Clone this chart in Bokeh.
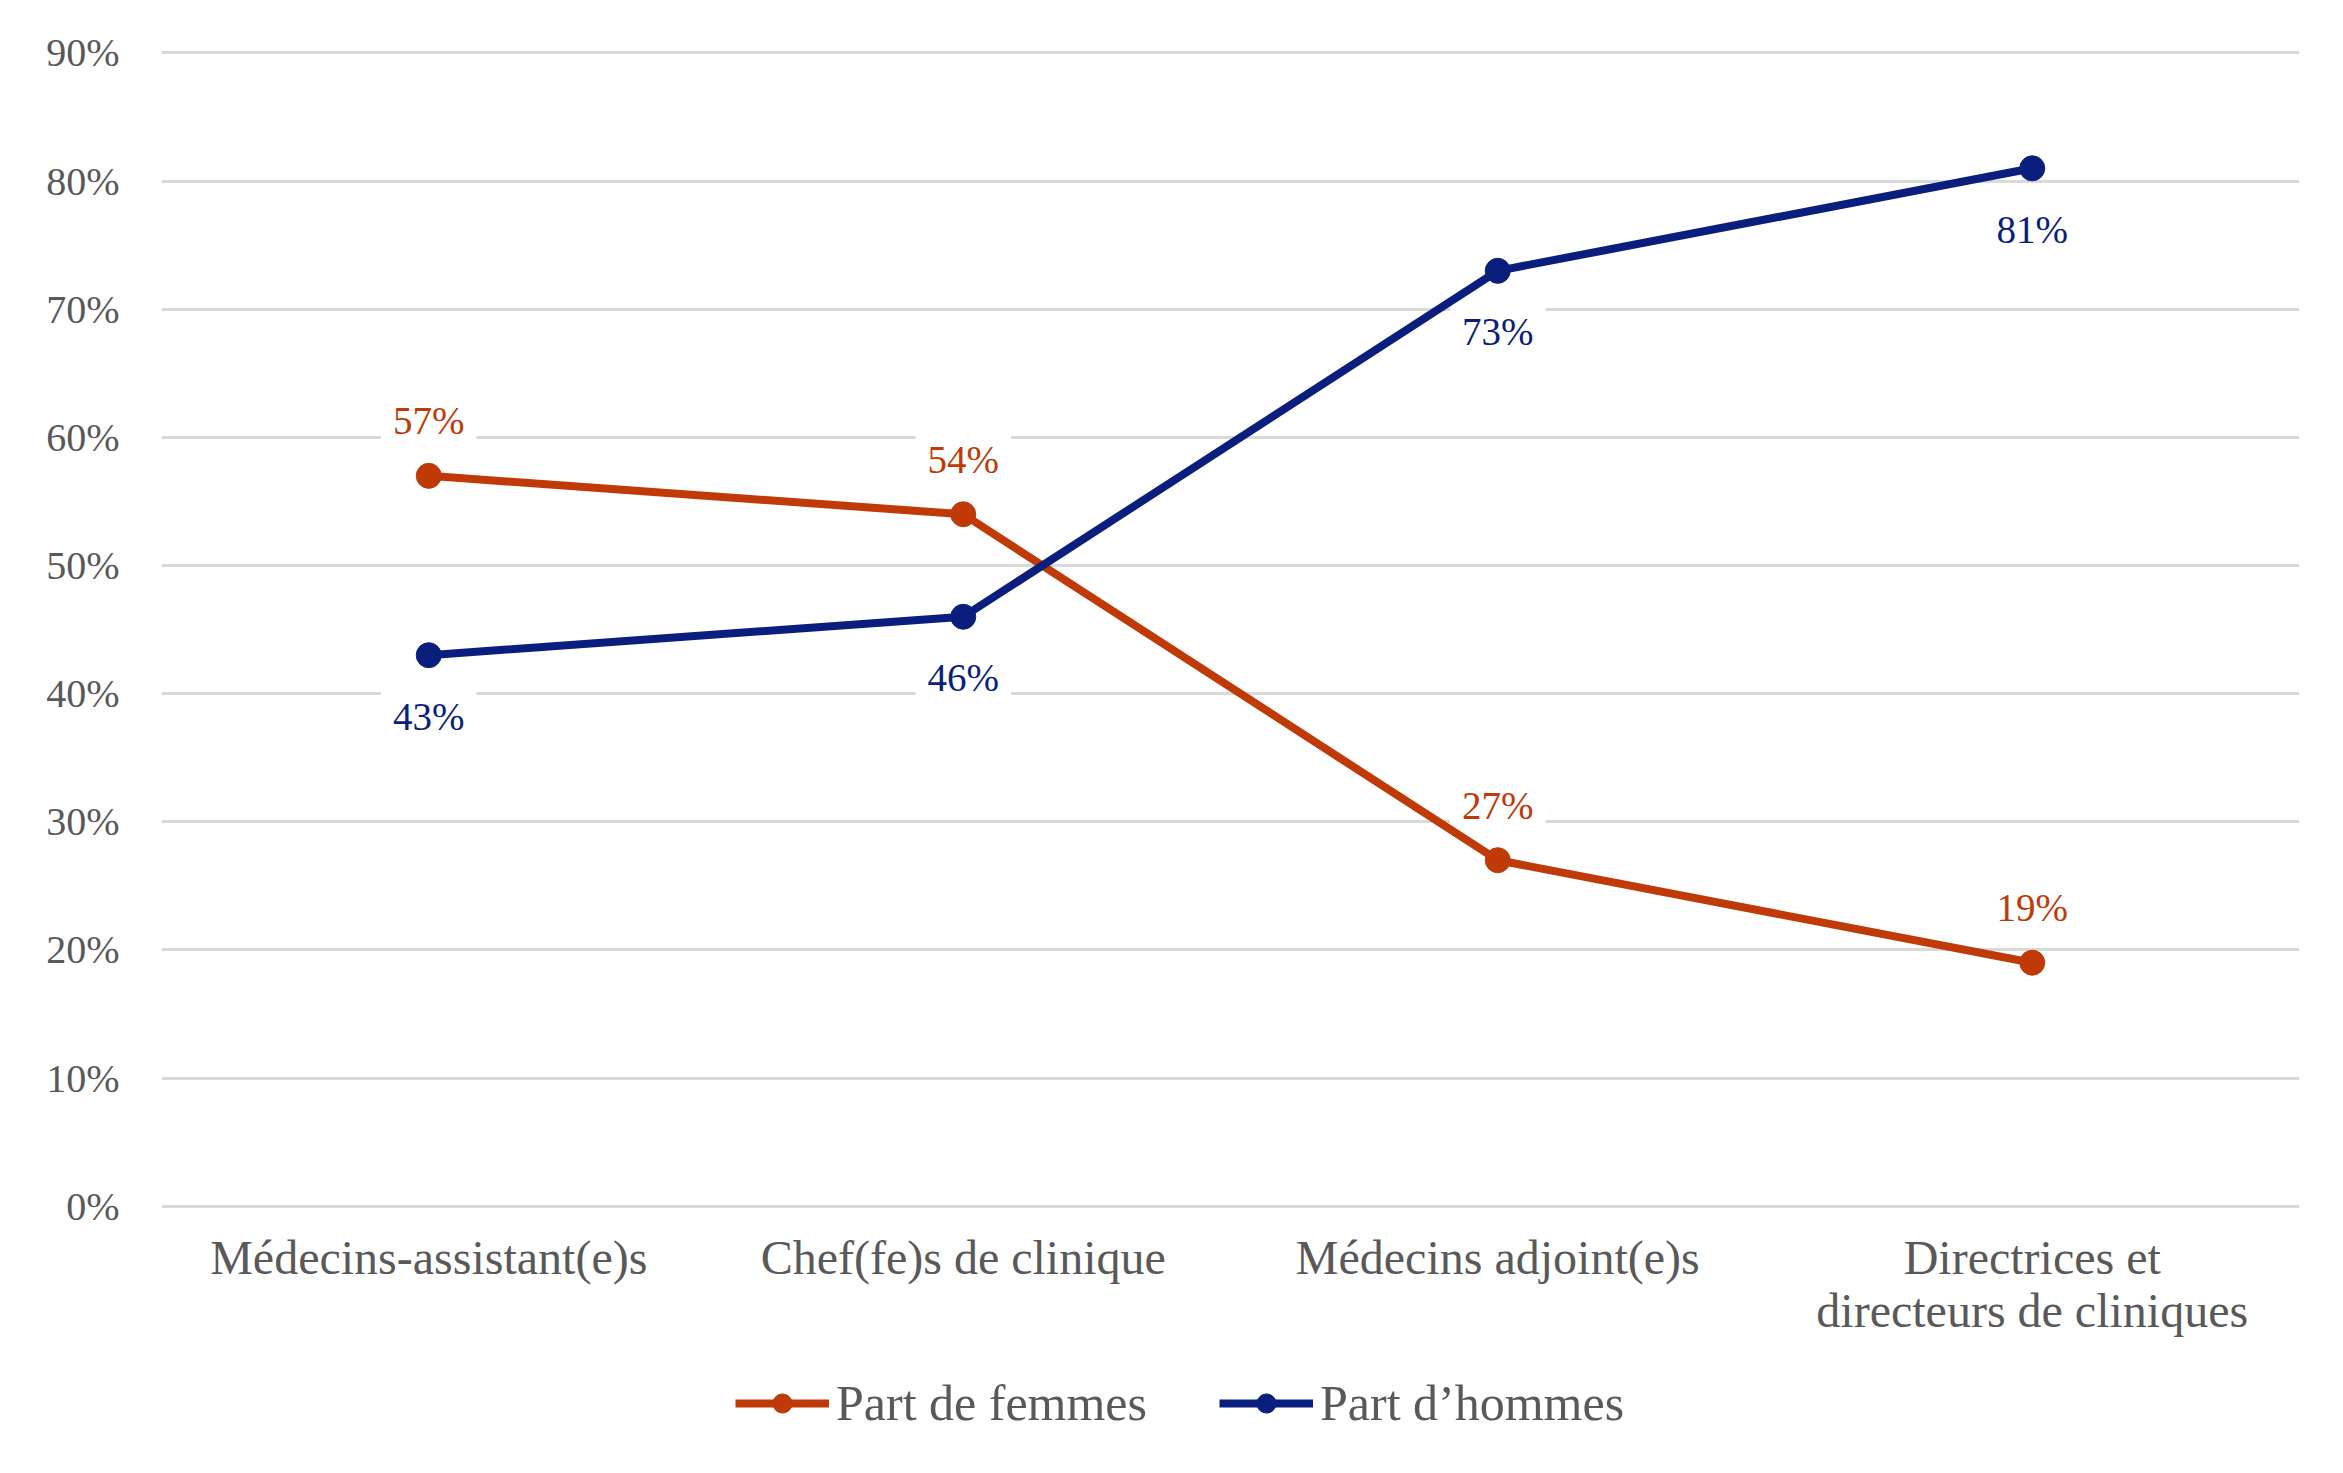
from bokeh.plotting import figure
from bokeh.models import (ColumnDataSource, FactorRange, Range1d, Legend, LegendItem,
                          FixedTicker, CustomJSTickFormatter)
from bokeh.core.properties import value
from bokeh.embed import file_html
from bokeh.resources import INLINE

categories = ["Médecins-assistant(e)s", "Chef(fe)s de clinique", "Médecins adjoint(e)s",
              "Directrices et\ndirecteurs de cliniques"]
femmes = [57, 54, 27, 19]
hommes = [43, 46, 73, 81]
series_names = ["Part de femmes", "Part d\u2019hommes"]
y_ticks = [0, 10, 20, 30, 40, 50, 60, 70, 80, 90]

ORANGE = "#BF3A07"
NAVY = "#0A1F7D"
GRAY = "#595959"
FONT = "Liberation Serif"

# frame extends below 0 so that the legend can sit inside it
p = figure(frame_width=2138, frame_height=1412,
           x_range=FactorRange(*categories, range_padding=0),
           y_range=Range1d(-19.85, 90.35), output_backend="svg", toolbar_location=None,
           min_border_left=161, min_border_right=30, min_border_top=48, min_border_bottom=0)
p.outline_line_color = None
p.xgrid.grid_line_color = None
p.ygrid.grid_line_color = "#D9D9D9"
p.ygrid.grid_line_width = 3
p.yaxis.ticker = FixedTicker(ticks=y_ticks)
p.yaxis.formatter = CustomJSTickFormatter(code="return tick.toFixed(0) + '%';")
for ax in (p.xaxis[0], p.yaxis[0]):
    ax.axis_line_color = None
    ax.major_tick_line_color = None
    ax.minor_tick_line_color = None
    ax.major_tick_out = 0
    ax.major_tick_in = 0
    ax.major_label_text_font = FONT
    ax.major_label_text_color = GRAY
p.xaxis.fixed_location = 0
p.yaxis.major_label_text_font_size = "40px"
p.xaxis.major_label_text_font_size = "48px"
p.yaxis.major_label_standoff = 42
p.xaxis.major_label_standoff = 25
p.xaxis.major_label_text_line_height = 1.0

src = ColumnDataSource(dict(cat=categories, f=femmes, h=hommes,
                            fl=[f"{v}%" for v in femmes], hl=[f"{v}%" for v in hommes]))

# value labels first so that the lines are drawn over their white boxes
p.text("cat", "f", text="fl", source=src, y_offset=-55, text_align="center",
       text_baseline="middle", text_font=value(FONT), text_font_size="39px", text_color=ORANGE,
       background_fill_color="white", padding=12)
p.text("cat", "h", text="hl", source=src, y_offset=61, text_align="center",
       text_baseline="middle", text_font=value(FONT), text_font_size="39px", text_color=NAVY,
       background_fill_color="white", padding=12)

rf = p.line("cat", "f", source=src, line_color=ORANGE, line_width=8)
cf = p.scatter("cat", "f", source=src, size=25, fill_color=ORANGE, line_color=ORANGE)
rh = p.line("cat", "h", source=src, line_color=NAVY, line_width=8)
ch = p.scatter("cat", "h", source=src, size=25, fill_color=NAVY, line_color=NAVY)

legend = Legend(items=[LegendItem(label=series_names[0], renderers=[rf, cf]),
                       LegendItem(label=series_names[1], renderers=[rh, ch])],
                orientation="horizontal", location=(574, 28),
                label_text_font=FONT, label_text_font_size="50px", label_text_color=GRAY,
                glyph_width=94, glyph_height=48, label_standoff=7, spacing=72,
                padding=0, margin=0, border_line_color=None, background_fill_alpha=0)
p.add_layout(legend)

open("out.html", "w").write(file_html(p, INLINE))
